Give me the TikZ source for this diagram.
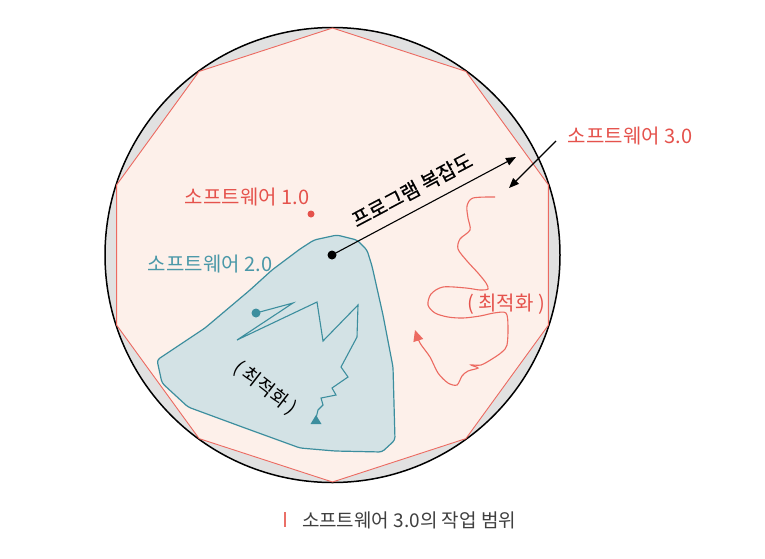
\documentclass[tikz,border=0pt]{standalone}
\usepackage{fontspec}
\setmainfont{Noto Sans CJK KR}
\newfontfamily\semibfont[FakeBold=0.5]{Noto Sans CJK KR}
\usetikzlibrary{arrows.meta}
\definecolor{ringgray}{HTML}{E1E1E1}
\definecolor{pinkfill}{HTML}{FDF0EA}
\definecolor{polyred}{HTML}{EC6A61}
\definecolor{txtred}{HTML}{E5524C}
\definecolor{tealc}{HTML}{3C8E9E}
\definecolor{tealtxt}{HTML}{4A98A8}
\definecolor{bluefill}{HTML}{D3E2E5}
\definecolor{captxt}{HTML}{3F3F3F}
\definecolor{barred}{HTML}{EA7068}
\begin{document}
\begin{tikzpicture}[x=1pt,y=-1pt,
  lbl/.style={inner sep=0pt, font=\fontsize{20}{22}\selectfont},
  dotc/.style={circle, inner sep=0pt, minimum size=#1},
  blk/.style={line width=1.1pt, -{Triangle[length=10pt,width=8pt]}}]
\useasboundingbox (0,0) rectangle (765,558);
\fill[white] (0,0) rectangle (765,558);
% outer circle
\filldraw[fill=ringgray, draw=black, line width=1.5pt] (332.5,255) circle [radius=227.5pt];
% decagon
\filldraw[fill=pinkfill, draw=polyred, line width=0.9pt]
  (332.5,28) -- (465.9,71.4) -- (548.4,184.9) -- (548.4,325.1) -- (465.9,438.6)
  -- (332.5,482) -- (199.1,438.6) -- (116.6,325.1) -- (116.6,184.9) -- (199.1,71.4) -- cycle;
% software 2.0 region
\filldraw[fill=bluefill, draw=tealc, line width=1.2pt, rounded corners=3pt]
  (157,360) -- (205,328) -- (250,290) -- (272,270) -- (300,249) -- (314,240)
  -- (337,235) -- (357,240) -- (367,250) -- (372,266) -- (383,315) -- (393,367)
  -- (395,440) -- (382,452) -- (335,451) -- (300,448) -- (245,428) -- (188,407)
  -- (162,383) -- cycle;
% red optimisation path
\draw[polyred, line width=1.1pt, -{Triangle[length=11pt,width=10pt]}]
  plot[smooth, tension=0.5] coordinates {
  (495,197) (473,198) (467,206) (468,218) (470,230) (460,239) (458,249) (467,261)
  (478,273) (486,283) (488,289) (480,290) (466,288) (443,287) (431,294) (428,305)
  (435,313) (448,317) (463,318) (480,316) (494,313) (506,313) (508,327) (507,345)
  (502,352) (492,359) (481,365) (471,365) (478,368) (468,371) (462,376) (457,385)
  (448,383) (438,373) (430,357) (420,343) (415,330)};
% blue zigzag
\node[dotc=9pt, fill=tealc] (bdot) at (256,313) {};
\draw[tealc, line width=1.1pt] (bdot.center) -- (293,303) -- (237,340) -- (317,302)
  -- (323,341) -- (358,305) -- (357,337) -- (341,367) -- (348,377) -- (332,388)
  -- (336,395) -- (321,398) -- (323,405) -- (318,410) -- (316,418);
\fill[tealc] (316,415) -- (321.5,424) -- (310.5,424) -- cycle;
% red dot
\node[dotc=7pt, fill=txtred] (rdot) at (311,214) {};
% complexity arrow
\node[dotc=9pt, fill=black] (cdot) at (332,255) {};
\coordinate (ctip) at (516,157);
\draw[blk] (cdot.center) -- (ctip);
\node[lbl, rotate=28, font=\fontsize{20}{22}\semibfont] (cplx) at (412,190) {프로그램 복잡도};
% labels
\node[lbl, text=txtred] (l1) at (247,197) {소프트웨어 1.0};
\node[lbl, text=tealtxt] (l2) at (210,264) {소프트웨어 2.0};
\node[lbl, text=txtred] (l3) at (630,136) {소프트웨어 3.0};
\coordinate (a3s) at (556,141);
\coordinate (a3e) at (509,188);
\draw[blk] (a3s) -- (a3e);
\node[lbl, text=txtred] (ropt) at (506,304) {( 최적화 )};
\node[lbl, rotate=-38, font=\fontsize{19}{21}\selectfont] (bopt) at (265,388) {( 최적화 )};
% caption
\draw[barred, line width=2pt] (285,512) -- (285,527);
\node[lbl, text=captxt, font=\fontsize{19}{21}\selectfont] (cap) at (409,520) {소프트웨어 3.0의 작업 범위};
\end{tikzpicture}
\end{document}
